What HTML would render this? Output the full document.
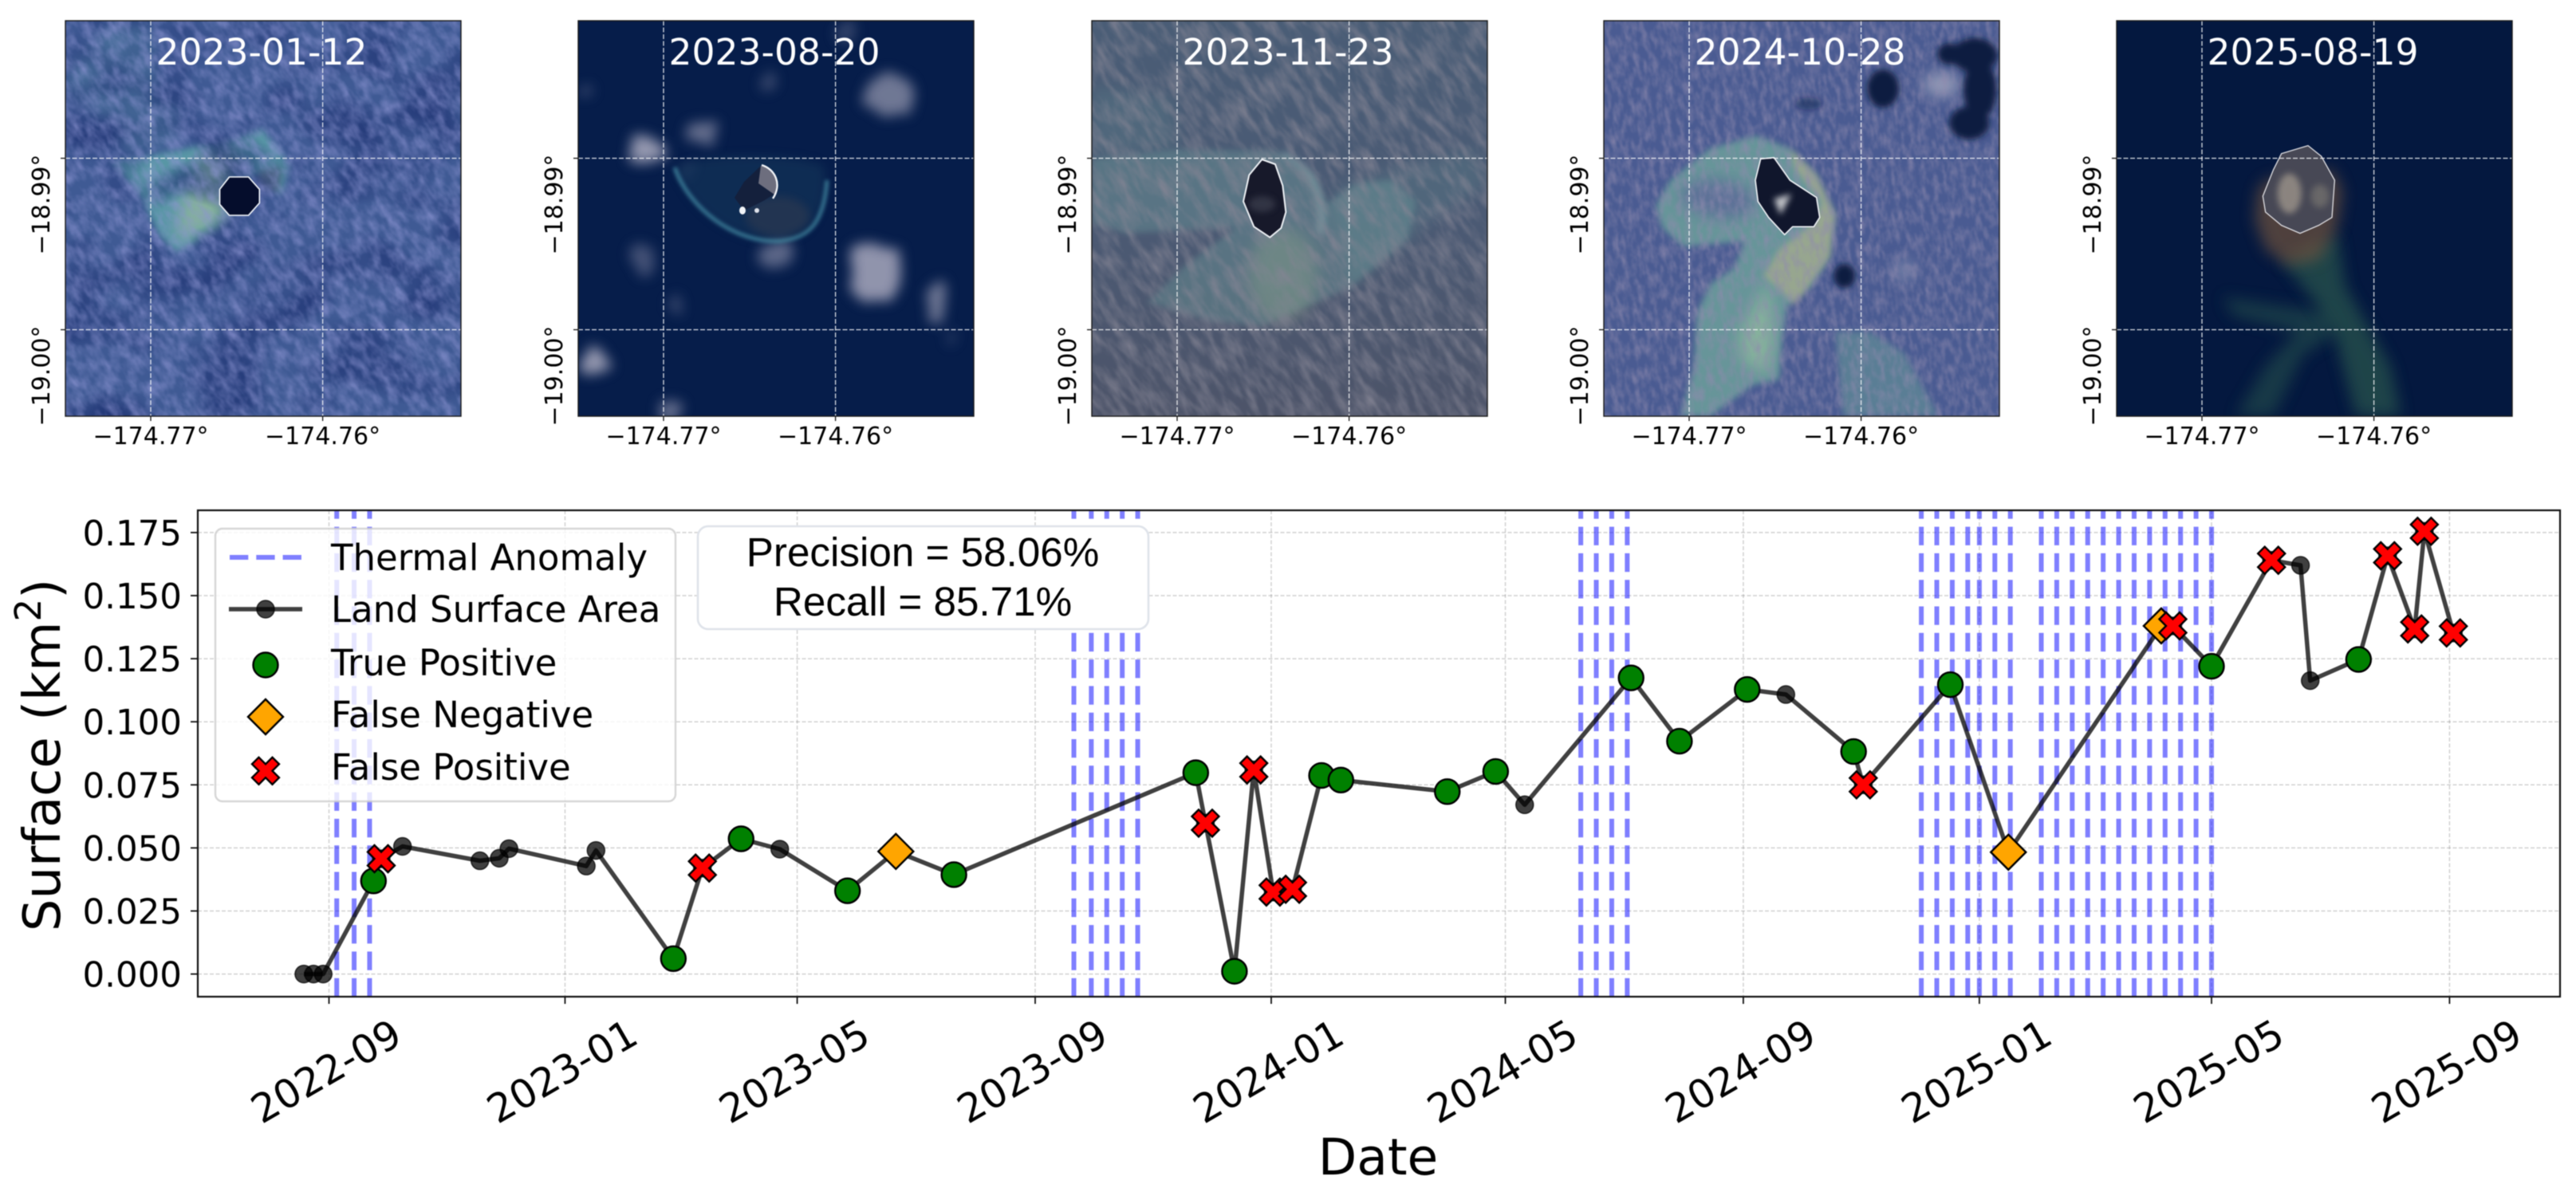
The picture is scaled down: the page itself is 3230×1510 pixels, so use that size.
<!DOCTYPE html>
<html lang="en">
<head>
<meta charset="utf-8">
<title>Land surface area and thermal anomalies</title>
<style>
html,body{margin:0;padding:0;background:#fff;width:3230px;height:1510px;overflow:hidden}
svg{display:block}
text{font-family:"DejaVu Sans","Liberation Sans",sans-serif;fill:#000}
.stats{font-family:"Liberation Sans",sans-serif}
</style>
</head>
<body>
<svg id="figure" xmlns="http://www.w3.org/2000/svg" width="3230" height="1510" viewBox="0 0 3230 1510" style="filter:blur(.6px)">
<defs>
  <filter id="b3" x="-30%" y="-30%" width="160%" height="160%"><feGaussianBlur stdDeviation="12"/></filter>
  <filter id="b6" x="-30%" y="-30%" width="160%" height="160%"><feGaussianBlur stdDeviation="28"/></filter>
  <filter id="cloud" x="-40%" y="-40%" width="180%" height="180%"><feTurbulence type="fractalNoise" baseFrequency=".03" numOctaves="2" seed="5" result="n"/><feDisplacementMap in="SourceGraphic" in2="n" scale="26" xChannelSelector="R" yChannelSelector="G"/><feGaussianBlur stdDeviation="8"/></filter>
  <filter id="tex1" x="0" y="0" width="100%" height="100%" color-interpolation-filters="sRGB"><feTurbulence type="fractalNoise" baseFrequency=".09 .05" numOctaves="3" seed="4"/><feColorMatrix type="matrix" values="0 0 0 0 .55  0 0 0 0 .58  0 0 0 0 .82  1.5 0 0 0 -.5"/><feGaussianBlur stdDeviation=".8"/></filter>
  <filter id="tex1d" x="0" y="0" width="100%" height="100%" color-interpolation-filters="sRGB"><feTurbulence type="fractalNoise" baseFrequency=".012 .016" numOctaves="2" seed="9"/><feColorMatrix type="matrix" values="0 0 0 0 .12  0 0 0 0 .2  0 0 0 0 .45  2 0 0 0 -.8"/></filter>
  <filter id="tex3" x="0" y="0" width="100%" height="100%" color-interpolation-filters="sRGB"><feTurbulence type="fractalNoise" baseFrequency=".09 .028" numOctaves="3" seed="7"/><feColorMatrix type="matrix" values="0 0 0 0 .52  0 0 0 0 .52  0 0 0 0 .58  1.5 0 0 0 -.55"/><feGaussianBlur stdDeviation=".8"/></filter>
  <filter id="tex4" x="0" y="0" width="100%" height="100%" color-interpolation-filters="sRGB"><feTurbulence type="fractalNoise" baseFrequency=".14 .06" numOctaves="3" seed="12"/><feColorMatrix type="matrix" values="0 0 0 0 .56  0 0 0 0 .54  0 0 0 0 .68  1.3 0 0 0 -.48"/><feGaussianBlur stdDeviation=".7"/></filter>
  <linearGradient id="g3" x1="0" y1="0" x2="0" y2="1"><stop offset="0" stop-color="#4a5d76"/><stop offset=".5" stop-color="#4b5a74"/><stop offset="1" stop-color="#4d5469"/></linearGradient>
  <clipPath id="clip1"><rect x="82" y="26" width="496" height="496"/></clipPath>
  <clipPath id="clip3"><rect x="1369" y="26" width="496" height="496"/></clipPath>
  <clipPath id="clip4"><rect x="2011" y="26" width="496" height="496"/></clipPath>
</defs>

<g id="panel-1">
  <svg x="82" y="26" width="496" height="496" viewBox="62 45 1443 1443" preserveAspectRatio="none">
    <rect x="62" y="45" width="1443" height="1443" fill="#3f5a94"/>
    <polygon points="230,45 372,45 400,260 470,360 470,480 300,540 200,400 62,300 62,240" fill="#5d9aa8" opacity=".3" filter="url(#b6)"/>
    <polygon points="230,560 330,545 560,500 620,500 780,440 880,570 850,680 760,600 640,780 620,800 470,890 400,830 350,700" fill="#5fa6aa" opacity=".8" filter="url(#b3)"/>
    <polygon points="560,540 640,510 700,560 640,780 470,850 480,720" fill="#a3c299" opacity=".6" filter="url(#b6)"/>
    <polygon points="770,590 850,580 840,670 760,650" fill="#586982" opacity=".8" filter="url(#b3)"/>
  </svg>
  <g clip-path="url(#clip1)">
    <rect x="82" y="26" width="496" height="496" fill="#000" filter="url(#tex1d)"/>
    <rect x="-60" y="-120" width="780" height="780" fill="#000" filter="url(#tex1)" transform="rotate(-35 330 274)" opacity=".85"/>
  </g>
  <svg x="82" y="26" width="496" height="496" viewBox="62 45 1443 1443" preserveAspectRatio="none">
    <polygon points="660,615 730,615 770,660 770,710 730,755 660,755 625,715 625,660" fill="#050d2c" stroke="#eef2f7" stroke-width="5" stroke-linejoin="round"/>
  </svg>
</g>

<g id="panel-2">
  <svg x="725" y="26" width="496" height="496" viewBox="0 0 496 496">
    <rect width="496" height="496" fill="#061d4a"/>
    <g fill="#c6c2d2" filter="url(#cloud)">
      <ellipse cx="388" cy="96" rx="28" ry="30" opacity=".55"/>
      <ellipse cx="158" cy="140" rx="20" ry="13" opacity=".5"/>
      <ellipse cx="86" cy="161" rx="22" ry="20" opacity=".75"/>
      <ellipse cx="245" cy="293" rx="24" ry="20" opacity=".45"/>
      <ellipse cx="374" cy="315" rx="34" ry="36" opacity=".72"/>
      <ellipse cx="449" cy="353" rx="10" ry="22" opacity=".55"/>
      <ellipse cx="21" cy="427" rx="19" ry="19" opacity=".75"/>
      <ellipse cx="81" cy="303" rx="15" ry="22" opacity=".32"/>
      <ellipse cx="114" cy="485" rx="18" ry="12" opacity=".5"/>
      <ellipse cx="121" cy="357" rx="10" ry="15" opacity=".25"/>
      <ellipse cx="237" cy="78" rx="10" ry="10" opacity=".28"/>
      <ellipse cx="341" cy="14" rx="14" ry="14" opacity=".25"/>
      <ellipse cx="138" cy="188" rx="7" ry="10" opacity=".25"/>
      <ellipse cx="9" cy="85" rx="7" ry="10" opacity=".25"/>
      <ellipse cx="469" cy="399" rx="10" ry="11" opacity=".2"/>
    </g>
    <path d="M121,184 C138,234 196,280 254,276 C290,272 315,240 308,182 C270,165 160,165 121,184Z" fill="#173a5c" opacity=".55" style="filter:blur(6px)"/>
    <path d="M121,184 C138,234 196,280 254,276 C287,272 308,257 312,200" fill="none" stroke="#4a97ad" stroke-width="5" opacity=".7" style="filter:blur(2.5px)"/>
    <ellipse cx="250" cy="245" rx="40" ry="25" fill="#333c50" opacity=".55" style="filter:blur(5px)"/>
    <path d="M229,182 C245,186 253,200 250,215 L232,226 L208,238 L196,222 L208,202Z" fill="#14203c"/>
    <path d="M229,182 C245,186 253,200 246,218 L226,204Z" fill="#6d6e7e"/>
    <path d="M230,181 C247,186 256,205 244,223" fill="none" stroke="#f2f4f8" stroke-width="2.4"/>
    <ellipse cx="206" cy="238" rx="4" ry="5" fill="#f2f4f8"/>
    <ellipse cx="224" cy="238" rx="3" ry="3" fill="#dfe2ea"/>
  </svg>
</g>

<g id="panel-3">
  <svg x="1369" y="26" width="496" height="496" viewBox="0 0 1488 1488">
    <rect width="1488" height="1488" fill="url(#g3)"/>
    <polygon points="0,250 300,290 330,485 0,520" fill="#67999a" opacity=".2" filter="url(#b6)"/>
    <polygon points="900,640 1130,560 1440,480 1488,620 1260,760 1200,820 980,1000" fill="#67999a" opacity=".2" filter="url(#b6)"/>
    <polygon points="0,520 330,485 700,490 840,580 880,690 1000,610 1130,600 1220,680 1190,820 980,1000 640,1150 450,1130 210,1060 340,930 540,780 300,790 130,800 0,760" fill="#6f9f9e" opacity=".38" filter="url(#b3)"/>
    <path d="M720,500 C830,560 880,660 860,800" fill="none" stroke="#94baba" stroke-width="30" opacity=".38" filter="url(#b3)"/>
    <ellipse cx="720" cy="960" rx="130" ry="180" fill="#8fa58c" opacity=".38" filter="url(#b6)"/>
  </svg>
  <g clip-path="url(#clip3)">
    <rect x="1050" y="-270" width="1120" height="1120" fill="#000" filter="url(#tex3)" transform="rotate(-32 1617 274)"/>
  </g>
  <svg x="1369" y="26" width="496" height="496" viewBox="0 0 1488 1488">
    <path d="M640,522 L690,540 L718,620 L730,720 L712,780 L670,815 L610,775 L570,680 L592,580Z" fill="#17192a" stroke="#eef1f5" stroke-width="6" stroke-linejoin="round"/>
    <ellipse cx="640" cy="690" rx="50" ry="30" fill="#3e4150" opacity=".7" filter="url(#b3)"/>
  </svg>
</g>

<g id="panel-4">
  <svg x="2011" y="26" width="496" height="496" viewBox="0 0 1488 1488">
    <rect width="1488" height="1488" fill="#4a5b92"/>
    <polygon points="870,1170 1000,1170 1130,1250 1260,1488 900,1488" fill="#6da59a" opacity=".48" filter="url(#b3)"/>
    <polygon points="570,432 700,480 800,580 870,730 850,890 780,1000 690,1075 670,1200 660,1350 560,1370 400,1488 290,1488 340,1300 350,1100 400,990 490,930 530,830 300,850 220,780 195,700 250,600 400,480" fill="#70a69c" opacity=".78" filter="url(#b3)"/>
    <ellipse cx="430" cy="670" rx="140" ry="70" fill="#5d7098" opacity=".95" filter="url(#b6)" transform="rotate(8 430 670)"/>
    <polygon points="700,480 800,580 870,730 850,890 720,1070 650,1000 600,960 660,860 790,760 820,680 720,560" fill="#bfb488" opacity=".55" filter="url(#b3)"/>
    <polygon points="620,980 640,1200 620,1330 520,1280 510,1180" fill="#a5cfa0" opacity=".5" filter="url(#b6)"/>
    <g fill="#9ea4bc" filter="url(#b6)"><ellipse cx="1270" cy="240" rx="70" ry="45" opacity=".9"/><ellipse cx="1130" cy="940" rx="40" ry="40" opacity=".55"/></g>
  </svg>
  <g clip-path="url(#clip4)">
    <rect x="1700" y="-270" width="1120" height="1120" fill="#000" filter="url(#tex4)" transform="rotate(-8 2259 274)"/>
  </g>
  <svg x="2011" y="26" width="496" height="496" viewBox="0 0 1488 1488">
    <g fill="#0c1a40" filter="url(#b3)">
      <ellipse cx="1050" cy="255" rx="60" ry="72"/>
      <ellipse cx="1395" cy="130" rx="85" ry="65"/>
      <ellipse cx="1300" cy="125" rx="45" ry="40"/>
      <ellipse cx="1415" cy="260" rx="62" ry="110"/>
      <ellipse cx="1375" cy="385" rx="75" ry="62"/>
      <ellipse cx="905" cy="960" rx="40" ry="45"/>
      <ellipse cx="770" cy="312" rx="50" ry="22" opacity=".45"/>
    </g>
    <path d="M590,520 L640,515 L700,600 L800,665 L812,740 L790,775 L710,775 L680,805 L620,740 L580,680 L570,600Z" fill="#10162c" stroke="#eef0f4" stroke-width="5" stroke-linejoin="round"/>
    <path d="M640,670 L705,652 L665,730Z" fill="#c6c8cc" filter="url(#b3)"/>
  </svg>
</g>

<g id="panel-5">
  <svg x="2654" y="26" width="496" height="496" viewBox="0 0 1488 1488">
    <rect width="1488" height="1488" fill="#04183f"/>
    <polygon points="400,1040 600,1070 800,1100 820,1180 700,1260 590,1488 450,1488 560,1300 680,1170 440,1110" fill="#2a5a50" opacity=".5" filter="url(#b6)"/>
    <polygon points="620,900 830,800 860,1000 940,1140 1030,1300 1070,1488 900,1488 820,1180 740,1050" fill="#2f5f50" opacity=".62" filter="url(#b6)"/>
    <polygon points="530,640 520,750 560,860 640,920 760,900 830,780 850,640 810,560 560,600" fill="#7d5a3c" opacity=".62" filter="url(#b6)"/>
    <path d="M620,500 L720,470 L770,510 L820,600 L810,740 L760,770 L690,800 L620,770 L560,720 L550,660 L590,560Z" fill="#474855" stroke="#dedee2" stroke-width="4" stroke-linejoin="round"/>
    <ellipse cx="650" cy="650" rx="45" ry="75" fill="#b9ad9c" opacity=".6" filter="url(#b3)"/>
    <ellipse cx="765" cy="660" rx="34" ry="44" fill="#8a867c" opacity=".5" filter="url(#b3)"/>
  </svg>
</g>

<g id="panel-overlays"></g>

<g id="main-chart">
  <rect x="248" y="640" width="2962" height="610" fill="#fff"/>
  <g id="grid"></g>
  <g id="anomalies"></g>
  <g id="series"></g>
  <rect x="248" y="640" width="2962" height="610" fill="none" stroke="#111" stroke-width="2.2"/>
  <g id="axes"></g>
  <text transform="translate(75,947) rotate(-90)" text-anchor="middle" font-size="64">Surface (km<tspan dy="-24" font-size="45">2</tspan><tspan dy="24">)</tspan></text>
  <text x="1728" y="1473" text-anchor="middle" font-size="63">Date</text>

  <g>
    <rect x="270" y="663" width="577" height="342" rx="9" fill="#fff" fill-opacity=".8" stroke="#ccc" stroke-opacity=".8" stroke-width="2.4"/>
    <g>
      <line x1="288" y1="699" x2="379" y2="699" stroke="#00f" stroke-opacity=".5" stroke-width="6" stroke-dasharray="23.3 10"/>
      <text x="415" y="715" font-size="45">Thermal Anomaly</text>
    </g>
    <g>
      <line x1="287" y1="764" x2="379" y2="764" stroke="#000" stroke-opacity=".75" stroke-width="5.5"/>
      <circle cx="333" cy="764" r="11" fill="#000" fill-opacity=".75" stroke="#000" stroke-opacity=".75" stroke-width="1.5"/>
      <text x="415" y="780" font-size="45">Land Surface Area</text>
    </g>
    <g>
      <circle cx="333" cy="834" r="15.5" fill="#008000" stroke="#000" stroke-width="2.4"/>
      <text x="415" y="847" font-size="45">True Positive</text>
    </g>
    <g>
      <polygon points="333,877 355,899 333,921 311,899" fill="#ffa500" stroke="#000" stroke-width="2.4"/>
      <text x="415" y="912" font-size="45">False Negative</text>
    </g>
    <g>
      <polygon points="324.5,949.8 333,958.3 341.5,949.8 350,958.3 341.5,966.8 350,975.3 341.5,983.8 333,975.3 324.5,983.8 316,975.3 324.5,966.8 316,958.3" fill="#f00" stroke="#000" stroke-width="2.4"/>
      <text x="415" y="978" font-size="45">False Positive</text>
    </g>
  </g>

  <g>
    <rect x="875" y="660" width="565" height="129" rx="13" fill="#fff" stroke="#dfe3ea" stroke-width="2.6"/>
    <text class="stats" x="1157" y="710" text-anchor="middle" font-size="51.2">Precision = 58.06%</text>
    <text class="stats" x="1157" y="772" text-anchor="middle" font-size="51.2">Recall = 85.71%</text>
  </g>
</g>
</svg>

<script>
// ---- chart data ----
const surfaceDates = ['2022-08-19','2022-08-24','2022-08-29','2022-09-24','2022-09-28','2022-10-09','2022-11-18','2022-11-28','2022-12-03','2023-01-12','2023-01-17','2023-02-26','2023-03-13','2023-04-02','2023-04-22','2023-05-27','2023-06-21','2023-07-21','2023-11-23','2023-11-28','2023-12-13','2023-12-23','2024-01-02','2024-01-12','2024-01-27','2024-02-06','2024-04-01','2024-04-26','2024-05-11','2024-07-05','2024-07-30','2024-09-03','2024-09-23','2024-10-28','2024-11-02','2024-12-17','2025-01-16','2025-04-05','2025-04-11','2025-05-01','2025-06-01','2025-06-16','2025-06-21','2025-07-16','2025-07-31','2025-08-14','2025-08-19','2025-09-03'];
const surfaceValues = [0,0,0,0.0369,0.0457,0.0506,0.0449,0.0459,0.0497,0.0428,0.049,0.0061,0.042,0.0536,0.0495,0.033,0.0486,0.0394,0.0798,0.0598,0.0011,0.0809,0.0325,0.0336,0.0787,0.0769,0.0723,0.0803,0.0671,0.1174,0.0923,0.1128,0.1108,0.0882,0.075,0.1147,0.0483,0.138,0.138,0.122,0.164,0.162,0.1163,0.1247,0.1658,0.1368,0.1755,0.1352];
const surfaceOutcomes = ['N','N','N','TP','FP','N','N','N','N','N','N','TP','FP','TP','N','TP','FN','TP','TP','FP','TP','FP','FP','FP','TP','TP','TP','TP','N','TP','TP','TP','N','TP','FP','TP','FN','FN','FP','TP','FP','N','N','TP','FP','FP','FP','FP'];
const anomalyDates = ['2022-09-05','2022-09-14','2022-09-22','2023-09-21','2023-09-30','2023-10-08','2023-10-16','2023-10-24','2024-06-09','2024-06-17','2024-06-25','2024-07-03','2024-12-02','2024-12-10','2024-12-18','2024-12-26','2025-01-01','2025-01-09','2025-01-17','2025-02-02','2025-02-10','2025-02-18','2025-02-26','2025-03-06','2025-03-14','2025-03-22','2025-03-30','2025-04-07','2025-04-15','2025-04-23','2025-05-01'];
const xTickDates = ['2022-09-01','2023-01-01','2023-05-01','2023-09-01','2024-01-01','2024-05-01','2024-09-01','2025-01-01','2025-05-01','2025-09-01'];
const xTickLabels = ['2022-09','2023-01','2023-05','2023-09','2024-01','2024-05','2024-09','2025-01','2025-05','2025-09'];
const yTickValues = [0,0.025,0.05,0.075,0.1,0.125,0.15,0.175];
const yTickLabels = ['0.000','0.025','0.050','0.075','0.100','0.125','0.150','0.175'];

// ---- satellite panel data ----
const panelDates = ['2023-01-12','2023-08-20','2023-11-23','2024-10-28','2025-08-19'];
const panelLonTicks = [-174.77,-174.76];
const panelLonLabels = ['\u2212174.77\u00b0','\u2212174.76\u00b0'];
const panelLatTicks = [-18.99,-19.00];
const panelLatLabels = ['\u221218.99\u00b0','\u221219.00\u00b0'];
const panelLefts = [82,725,1369,2011,2654];

const NS = 'http://www.w3.org/2000/svg';
function mk(parent, tag, attrs, txt) {
  const el = document.createElementNS(NS, tag);
  for (const k in attrs) el.setAttribute(k, attrs[k]);
  if (txt !== undefined) el.textContent = txt;
  parent.appendChild(el);
  return el;
}
const dayOf = d => Date.parse(d + 'T00:00:00Z') / 86400000;
function xScale(date) {
  const d0 = dayOf('2022-09-01'), d1 = dayOf('2025-09-01');
  return 412.5 + (dayOf(date) - d0) / (d1 - d0) * (3071.4 - 412.5);
}
function yScale(v) { return 1221.6 - (v / 0.175) * (1221.6 - 667.9); }

const gridG = document.getElementById('grid');
const axesG = document.getElementById('axes');
const anomG = document.getElementById('anomalies');
const seriesG = document.getElementById('series');
const overlay = document.getElementById('panel-overlays');

// grid, ticks and tick labels
yTickValues.forEach((v, i) => {
  const y = yScale(v);
  const g = mk(gridG, 'line', {x1: 248, x2: 3210, y1: y, y2: y, stroke: '#808080', 'stroke-opacity': .36, 'stroke-width': 1.5, 'stroke-dasharray': '5 2.5'});
  
  
  const t = mk(axesG, 'line', {x1: 239, x2: 248, y1: y, y2: y, stroke: '#111', 'stroke-width': 1.8});
  
  
  const l = mk(axesG, 'text', {x: 228, y: y + 16, 'text-anchor': 'end', 'font-size': 43.5}, yTickLabels[i]);
  
  
});
xTickDates.forEach((d, i) => {
  const x = xScale(d);
  const g = mk(gridG, 'line', {x1: x, x2: x, y1: 640, y2: 1250, stroke: '#808080', 'stroke-opacity': .36, 'stroke-width': 1.5, 'stroke-dasharray': '5 2.5'});
  
  
  const t = mk(axesG, 'line', {x1: x, x2: x, y1: 1250, y2: 1259, stroke: '#111', 'stroke-width': 1.8});
  
  
  const l = mk(axesG, 'text', {transform: 'translate(' + (x - 4) + ',1343) rotate(-30)', 'text-anchor': 'middle', y: 18, 'font-size': 49.5}, xTickLabels[i]);
  
  
});

// thermal anomaly lines
anomalyDates.forEach(d => {
  const x = xScale(d);
  const a = mk(anomG, 'line', {x1: x, x2: x, y1: 1250, y2: 640, stroke: '#00f', 'stroke-opacity': .5, 'stroke-width': 6, 'stroke-dasharray': '23.3 10'});
  
  
});

// land surface line and base markers
const pts = surfaceDates.map((d, i) => [xScale(d), yScale(surfaceValues[i])]);
const line = mk(seriesG, 'polyline', {points: pts.map(p => p[0].toFixed(1) + ',' + p[1].toFixed(1)).join(' '), fill: 'none', stroke: '#000', 'stroke-opacity': .75, 'stroke-width': 5.5, 'stroke-linejoin': 'round'});


pts.forEach(p => {
  const c = mk(seriesG, 'circle', {cx: p[0], cy: p[1], r: 11, fill: '#000', 'fill-opacity': .75, stroke: '#000', 'stroke-opacity': .75, 'stroke-width': 1.5});
  
  
});

// outcome markers
surfaceOutcomes.forEach((o, i) => {
  if (o !== 'TP') return;
  const c = mk(seriesG, 'circle', {cx: pts[i][0], cy: pts[i][1], r: 15.5, fill: '#008000', stroke: '#000', 'stroke-width': 2.4});
  
  
});
surfaceOutcomes.forEach((o, i) => {
  if (o !== 'FN') return;
  const [x, y] = pts[i], r = 22;
  const c = mk(seriesG, 'polygon', {points: [[x, y - r], [x + r, y], [x, y + r], [x - r, y]].join(' '), fill: '#ffa500', stroke: '#000', 'stroke-width': 2.4});
  
  
});
const xShape = [[-1,-2],[0,-1],[1,-2],[2,-1],[1,0],[2,1],[1,2],[0,1],[-1,2],[-2,1],[-1,0],[-2,-1]];
surfaceOutcomes.forEach((o, i) => {
  if (o !== 'FP') return;
  const [x, y] = pts[i], u = 8.5;
  const c = mk(seriesG, 'polygon', {points: xShape.map(s => (x + s[0] * u) + ',' + (y + s[1] * u)).join(' '), fill: '#f00', stroke: '#000', 'stroke-width': 2.4});
  
  
});

// satellite panel overlays
const panelSize = 496, panelTop = 26;
const lonX = v => 107 + (v + 174.77) / 0.01 * 215.6;
const latY = v => 172.5 + (-18.99 - v) / 0.01 * 215;
panelDates.forEach((date, p) => {
  const left = panelLefts[p];
  panelLonTicks.forEach((v, i) => {
    const x = left + lonX(v);
    const g = mk(overlay, 'line', {x1: x, x2: x, y1: panelTop, y2: panelTop + panelSize, stroke: '#fff', 'stroke-opacity': .85, 'stroke-width': 1.3, 'stroke-dasharray': '6 2.5'});
    
    
    const t = mk(overlay, 'line', {x1: x, x2: x, y1: panelTop + panelSize, y2: panelTop + panelSize + 6, stroke: '#111', 'stroke-width': 1.3});
    
    
    const l = mk(overlay, 'text', {x: x, y: 557, 'text-anchor': 'middle', 'font-size': 30}, panelLonLabels[i]);
    
    
  });
  panelLatTicks.forEach((v, i) => {
    const y = panelTop + latY(v);
    const g = mk(overlay, 'line', {x1: left, x2: left + panelSize, y1: y, y2: y, stroke: '#fff', 'stroke-opacity': .85, 'stroke-width': 1.3, 'stroke-dasharray': '6 2.5'});
    
    
    const t = mk(overlay, 'line', {x1: left - 6, x2: left, y1: y, y2: y, stroke: '#111', 'stroke-width': 1.3});
    
    
    const l = mk(overlay, 'text', {transform: 'translate(' + (left - 20) + ',' + (y - 5) + ') rotate(-90)', 'text-anchor': 'end', 'font-size': 30}, panelLatLabels[i]);
    
    
  });
  const frame = mk(overlay, 'rect', {x: left, y: panelTop, width: panelSize, height: panelSize, fill: 'none', stroke: '#1a1a1a', 'stroke-width': 1.4});
  
  
  const title = mk(overlay, 'text', {x: left + 246, y: 81, 'text-anchor': 'middle', 'font-size': 45.6, style: 'fill:#fff'}, date);
  
  
});
</script>
</body>
</html>
